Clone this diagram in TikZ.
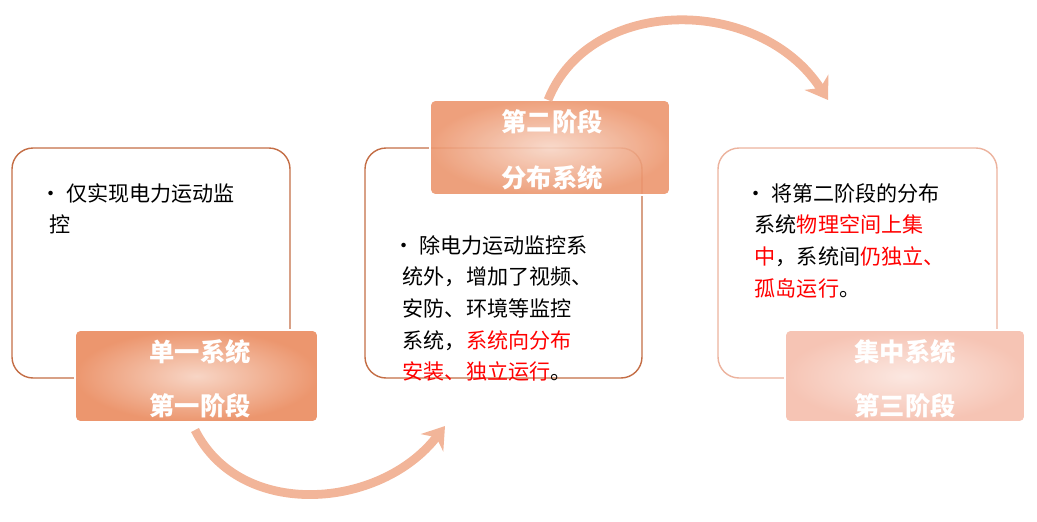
\documentclass[tikz,border=0pt]{standalone}
\usepackage{fontspec}
\newfontfamily\cjk{Noto Sans CJK SC}
\usetikzlibrary{arrows.meta,positioning}
\definecolor{rim}{RGB}{196,110,70}
\definecolor{peach}{RGB}{236,150,110}
\definecolor{pinkish}{RGB}{246,196,180}
\begin{document}
\begin{tikzpicture}[x=0.02cm,y=-0.02cm,
    panel/.style={draw=rim, rounded corners=12pt, fill=white, thick},
    tag/.style={draw=white, rounded corners=3pt, inner color=peach!40, outer color=peach, line width=1pt},
    tagtext/.style={font=\cjk\Large\bfseries, text=white},
    body/.style={font=\cjk\large, align=left, anchor=north west, inner sep=0pt},
    curvearrow/.style={line width=5pt, draw=peach!70, -{Stealth[length=12pt,width=16pt]}}
]
\useasboundingbox (0,0) rectangle (1037,521);
% Panels
\draw[panel] (12,148) rectangle (290,378);
\draw[panel] (365,148) rectangle (642,378);
\draw[panel, draw=pinkish!80!rim] (718,148) rectangle (997,378);

% Stage tags
\draw[tag] (75,330) rectangle (318,422);
\node[tagtext] (t1a) at (200,352) {单一系统};
\node[tagtext] (t1b) at (200,406) {第一阶段};
\draw[tag, fill opacity=0.9] (430,100) rectangle (670,195);
\node[tagtext] (t2a) at (552,122) {第二阶段};
\node[tagtext] (t2b) at (552,178) {分布系统};
\draw[tag, inner color=pinkish!40, outer color=pinkish] (785,330) rectangle (1025,422);
\node[tagtext] (t3a) at (905,352) {集中系统};
\node[tagtext] (t3b) at (905,406) {第三阶段};

% Texts
\node[body] (b1) at (40,183) {• 仅实现电力运动监\\[4pt]\ \ 控};
\node[body] (b2) at (393,235) {• 除电力运动监控系\\[4pt]
\ \ 统外，增加了视频、\\[4pt]
\ \ 安防、环境等监控\\[4pt]
\ \ 系统，\textcolor{red}{系统向分布}\\[4pt]
\ \ \textcolor{red}{安装、独立运行}。};
\node[body] (b3) at (745,183) {• 将第二阶段的分布\\[4pt]
\ \ 系统\textcolor{red}{物理空间上集}\\[4pt]
\ \ \textcolor{red}{中}，系统间\textcolor{red}{仍独立、}\\[4pt]
\ \ \textcolor{red}{孤岛运行}。};

% Curved arrows
\coordinate (c1s) at (195,430);
\coordinate (c1e) at (445,426);
\coordinate (c2s) at (548,100);
\coordinate (c2e) at (828,100);
\draw[curvearrow] (c1s) .. controls (240,520) and (380,510) .. (c1e);
\draw[curvearrow] (c2s) .. controls (590,-5) and (760,-5) .. (c2e);
\end{tikzpicture}
\end{document}
